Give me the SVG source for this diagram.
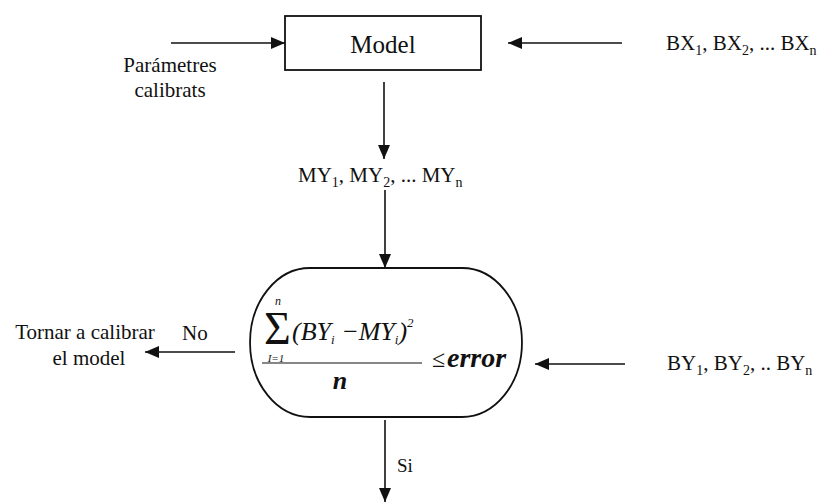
<svg xmlns="http://www.w3.org/2000/svg" width="825" height="503" viewBox="0 0 825 503">
<defs>
<style>
text{font-family:'Liberation Serif','Times New Roman','DejaVu Serif',serif;fill:#111}
.t{font-size:21px}
.s{font-size:14px}
.f{font-style:italic}
.ln{stroke:#111;stroke-width:1.6;fill:none}
.sh{stroke:#111;stroke-width:1.8;fill:#fff}
</style>
<marker id="ah" markerUnits="userSpaceOnUse" markerWidth="16" markerHeight="12" refX="14" refY="6" orient="auto">
<path d="M0,0 L14,6 L0,12 Z" fill="#111"/>
</marker>
</defs>
<rect width="825" height="503" fill="#fff"/>
<g id="connectors">
<path class="ln" d="M171,43 H285" marker-end="url(#ah)"/>
<path class="ln" d="M622,43 H508" marker-end="url(#ah)"/>
<path class="ln" d="M384,82 V159" marker-end="url(#ah)"/>
<path class="ln" d="M385,190 V268" marker-end="url(#ah)"/>
<path class="ln" d="M235,352 H145" marker-end="url(#ah)"/>
<path class="ln" d="M625,364 H535" marker-end="url(#ah)"/>
<path class="ln" d="M385,420 V502" marker-end="url(#ah)"/>
</g>
<g id="model">
<rect class="sh" x="285" y="16" width="196" height="54"/>
<text x="383" y="53" text-anchor="middle" style="font-size:25px">Model</text>
</g>
<g id="params">
<text class="t" x="170" y="72" text-anchor="middle">Parámetres</text>
<text class="t" x="170" y="97" text-anchor="middle">calibrats</text>
</g>
<g id="bx">
<text class="t" x="666" y="50">BX<tspan class="s" dy="5">1</tspan><tspan dy="-5">, BX</tspan><tspan class="s" dy="5">2</tspan><tspan dy="-5">, ... BX</tspan><tspan class="s" dy="5">n</tspan></text>
</g>
<g id="my">
<text class="t" x="298" y="182">MY<tspan class="s" dy="5">1</tspan><tspan dy="-5">, MY</tspan><tspan class="s" dy="5">2</tspan><tspan dy="-5">, ... MY</tspan><tspan class="s" dy="5">n</tspan></text>
</g>
<g id="check">
<path class="sh" d="M310,268 H462 A60,74.5 0 0 1 462,417 H310 A60,74.5 0 0 1 310,268 Z"/>
<text class="f" x="278" y="305" text-anchor="middle" style="font-size:12px">n</text>
<text x="264" y="344" style="font-size:46px">Σ</text>
<text class="f" x="276" y="362" text-anchor="middle" style="font-size:11px">I=1</text>
<text class="f" x="292" y="340" style="font-size:26px">(BY<tspan style="font-size:13px" dy="4">i</tspan><tspan dy="-4"> −MY</tspan><tspan style="font-size:13px" dy="4">i</tspan><tspan dy="-4">)</tspan><tspan style="font-size:13px" dy="-13">2</tspan></text>
<line x1="262" y1="363" x2="422" y2="363" stroke="#111" stroke-width="1.2"/>
<text class="f" x="340" y="389" text-anchor="middle" style="font-size:26px;font-weight:bold">n</text>
<text x="432" y="367" style="font-size:24px">≤</text>
<text class="f" x="447" y="367" style="font-size:28px;font-weight:bold">error</text>
</g>
<g id="retry">
<text class="t" x="85" y="339" text-anchor="middle">Tornar a calibrar</text>
<text class="t" x="89" y="365" text-anchor="middle">el model</text>
<text class="t" x="182" y="340">No</text>
</g>
<g id="by">
<text class="t" x="667" y="370">BY<tspan class="s" dy="5">1</tspan><tspan dy="-5">, BY</tspan><tspan class="s" dy="5">2</tspan><tspan dy="-5">, .. BY</tspan><tspan class="s" dy="5">n</tspan></text>
</g>
<g id="si">
<text x="397" y="472" style="font-size:19px">Si</text>
</g>
</svg>
